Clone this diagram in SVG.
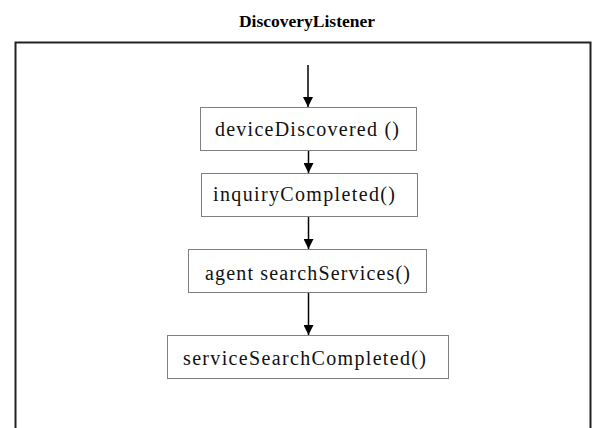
<svg xmlns="http://www.w3.org/2000/svg" width="592" height="428" viewBox="0 0 592 428">
<style>
.title{font-family:"Liberation Serif","Times New Roman",serif;font-size:17.5px;font-weight:bold;fill:#000}
.lbl{font-family:"Liberation Serif","Times New Roman",serif;font-size:20px;fill:#111}
.box{fill:#fff;stroke:#000;stroke-width:1;stroke-dasharray:1 1}
.frame{fill:none;stroke:#222;stroke-width:2}
.conn{stroke:#000;stroke-width:1.5;fill:none;marker-end:url(#ah)}
</style>
<defs>
<marker id="ah" markerWidth="10" markerHeight="10" refX="10" refY="5" orient="auto" markerUnits="userSpaceOnUse" viewBox="0 0 10 10">
<path d="M0,0 L10,5 L0,10 Z" fill="#000"/>
</marker>
</defs>
<rect width="592" height="428" fill="#fff"/>
<text class="title" x="307" y="27" text-anchor="middle">DiscoveryListener</text>
<path class="frame" d="M15.5,430 L15.5,42.5 L590.5,42.5 L590.5,430"/>
<g id="connectors">
<line class="conn" x1="308" y1="65" x2="308" y2="107"/>
<line class="conn" x1="308.5" y1="151" x2="308.5" y2="173"/>
<line class="conn" x1="308.5" y1="217" x2="308.5" y2="249"/>
<line class="conn" x1="308.5" y1="293" x2="308.5" y2="335"/>
</g>
<g id="deviceDiscovered">
<rect class="box" x="200.5" y="107.5" width="216" height="43"/>
<text class="lbl" x="215" y="136" textLength="184" lengthAdjust="spacing">deviceDiscovered ()</text>
</g>
<g id="inquiryCompleted">
<rect class="box" x="201.5" y="173.5" width="216" height="43"/>
<text class="lbl" x="213" y="201" textLength="182" lengthAdjust="spacing">inquiryCompleted()</text>
</g>
<g id="searchServices">
<rect class="box" x="188.5" y="249.5" width="238" height="43"/>
<text class="lbl" x="205" y="280" textLength="205" lengthAdjust="spacing">agent searchServices()</text>
</g>
<g id="serviceSearchCompleted">
<rect class="box" x="167.5" y="335.5" width="281" height="43"/>
<text class="lbl" x="183" y="365" textLength="243" lengthAdjust="spacing">serviceSearchCompleted()</text>
</g>
</svg>
